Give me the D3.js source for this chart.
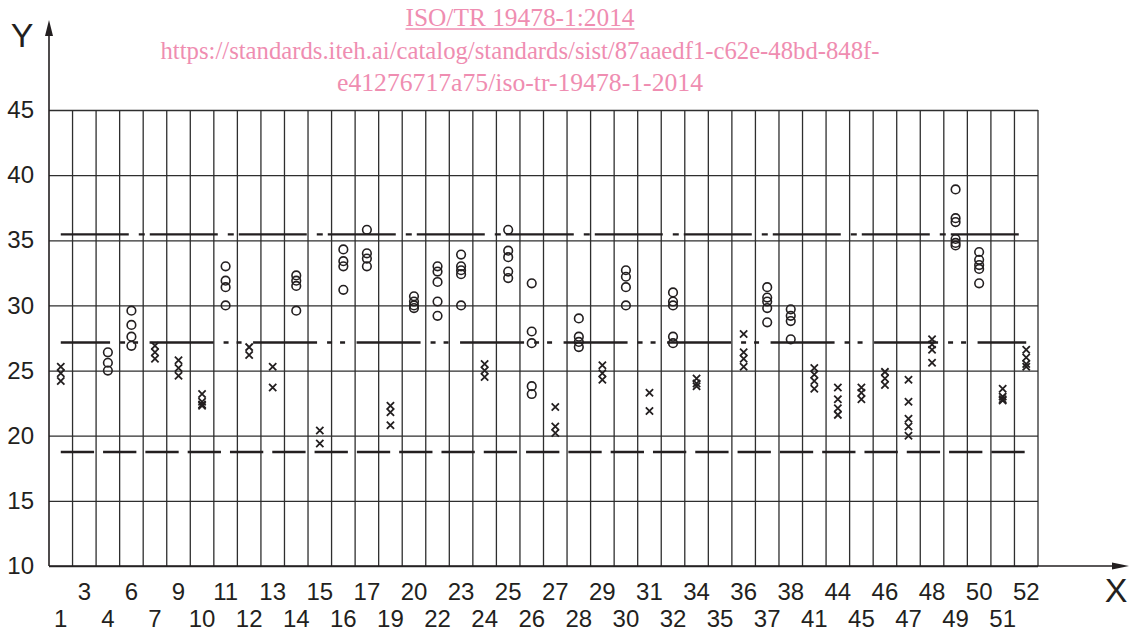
<!DOCTYPE html>
<html>
<head>
<meta charset="utf-8">
<script src="https://cdn.jsdelivr.net/npm/d3@7"></script>
<style>
  body { margin: 0; background: #fff; }
  svg { display: block; font-family: "Liberation Sans", Arial, sans-serif; }
</style>
</head>
<body>
<div id="chart"></div>
<script>
// specimen numbers along X (two of them have no results)
const categories = [1, 3, 4, 6, 7, 9, 10, 11, 12, 13, 14, 15, 16, 17, 19, 20, 22, 23, 24, 25, 26,
    27, 28, 29, 30, 31, 32, 34, 35, 36, 37, 38, 41, 44, 45, 46, 47, 48, 49, 50, 51, 52];

const yTicks = [10, 15, 20, 25, 30, 35, 40, 45];

// results drawn as circles: [specimen, values]
const circleResults = [
    [4, [26.4, 25.6, 25.0]],
    [6, [29.6, 28.5, 27.6, 26.9]],
    [11, [33.0, 31.9, 31.4, 30.0]],
    [14, [32.3, 31.9, 31.5, 29.6]],
    [16, [34.3, 33.4, 33.0, 31.2]],
    [17, [35.8, 34.0, 33.6, 33.0]],
    [20, [30.7, 30.3, 30.0, 29.8]],
    [22, [33.0, 32.6, 31.8, 30.3, 29.2]],
    [23, [33.9, 33.0, 32.7, 32.4, 30.0]],
    [25, [35.8, 34.2, 33.7, 32.6, 32.1]],
    [26, [31.7, 28.0, 27.1, 23.8, 23.2]],
    [28, [29.0, 27.6, 27.2, 26.8]],
    [30, [32.7, 32.2, 31.4, 30.0]],
    [32, [31.0, 30.3, 30.0, 27.6, 27.1]],
    [37, [31.4, 30.6, 30.3, 29.8, 28.7]],
    [38, [29.7, 29.2, 28.8, 27.4]],
    [49, [38.9, 36.7, 36.4, 35.1, 34.8, 34.6]],
    [50, [34.1, 33.5, 33.1, 32.8, 31.7]]
];

// results drawn as crosses: [specimen, values]
const crossResults = [
    [1, [25.3, 24.8, 24.2]],
    [7, [26.9, 26.4, 25.9]],
    [9, [25.8, 25.2, 24.6]],
    [10, [23.2, 22.6, 22.4, 22.3]],
    [12, [26.8, 26.2]],
    [13, [25.3, 23.7]],
    [15, [20.4, 19.4]],
    [19, [22.3, 21.8, 20.8]],
    [24, [25.5, 25.0, 24.5]],
    [27, [22.2, 20.7, 20.2]],
    [29, [25.4, 24.8, 24.3]],
    [31, [23.3, 21.9]],
    [34, [24.4, 24.0, 23.8]],
    [36, [27.8, 26.4, 25.9, 25.3]],
    [41, [25.2, 24.7, 24.2, 23.6]],
    [44, [23.7, 22.8, 22.1, 21.6]],
    [45, [23.7, 23.3, 22.8]],
    [46, [24.9, 24.4, 23.9]],
    [47, [24.3, 22.6, 21.3, 20.7, 20.0]],
    [48, [27.4, 27.0, 26.6, 25.6]],
    [51, [23.6, 23.0, 22.8, 22.7]],
    [52, [26.6, 26.0, 25.5, 25.3]]
];

// horizontal reference levels: upper, mean, lower
const refLevels = [35.45, 27.15, 18.75];

const watermark = [
    'ISO/TR 19478-1:2014',
    'https://standards.iteh.ai/catalog/standards/sist/87aaedf1-c62e-48bd-848f-',
    'e41276717a75/iso-tr-19478-1-2014'
];

const W = 1139, H = 631;
const plotLeft = 49, plotRight = 1038, plotTop = 110, plotBottom = 566;
const ink = '#231f20';

const svg = d3.select('#chart').append('svg')
    .attr('width', W)
    .attr('height', H);

const x = d3.scaleBand()
    .domain(categories)
    .range([plotLeft, plotRight])
    .padding(0);

const y = d3.scaleLinear()
    .domain([10, 45])
    .range([plotBottom, plotTop]);

// horizontal grid + y labels
const yAxis = svg.append('g')
    .attr('transform', `translate(${plotLeft},0)`)
    .call(d3.axisLeft(y).tickValues(yTicks).tickSize(-(plotRight - plotLeft)).tickPadding(15));
yAxis.select('.domain').remove();
yAxis.selectAll('.tick line').attr('stroke', '#2e2e2e').attr('stroke-width', 1.3);
yAxis.selectAll('.tick text')
    .attr('fill', ink)
    .style('font-size', '24px')
    .style('font-family', '"Liberation Sans", Arial, sans-serif');

// vertical grid at column edges
const edges = categories.slice(1).map(c => x(c)).concat([plotRight]);
svg.append('g').selectAll('line')
    .data(edges)
    .enter().append('line')
    .attr('x1', d => d).attr('x2', d => d)
    .attr('y1', plotTop).attr('y2', plotBottom)
    .attr('stroke', '#2e2e2e')
    .attr('stroke-width', 1.3);

// x labels, staggered on two rows
const xAxis = svg.append('g')
    .attr('transform', `translate(0,${plotBottom})`)
    .call(d3.axisBottom(x).tickSize(0));
xAxis.select('.domain').remove();
xAxis.selectAll('.tick text')
    .attr('fill', ink)
    .attr('dy', null)
    .attr('y', (d, i) => i % 2 === 0 ? 61 : 34)
    .style('font-size', '24px')
    .style('font-family', '"Liberation Sans", Arial, sans-serif');

// axes with arrows
svg.append('line')
    .attr('x1', plotLeft).attr('x2', plotLeft)
    .attr('y1', plotBottom).attr('y2', 30)
    .attr('stroke', ink).attr('stroke-width', 1.6);
svg.append('path')
    .attr('d', `M${plotLeft},20 L${plotLeft - 4},36 L${plotLeft + 4},36 Z`)
    .attr('fill', ink);
svg.append('line')
    .attr('x1', plotLeft).attr('x2', 1118)
    .attr('y1', plotBottom).attr('y2', plotBottom)
    .attr('stroke', ink).attr('stroke-width', 1.6);
svg.append('path')
    .attr('d', `M1129,${plotBottom} L1112,${plotBottom - 3.5} L1112,${plotBottom + 3.5} Z`)
    .attr('fill', ink);

svg.append('text')
    .attr('x', 22).attr('y', 47)
    .attr('text-anchor', 'middle')
    .attr('fill', ink)
    .style('font-size', '34px')
    .text('Y');
svg.append('text')
    .attr('x', 1116).attr('y', 602)
    .attr('text-anchor', 'middle')
    .attr('fill', ink)
    .style('font-size', '34px')
    .text('X');

// reference lines
const x0 = x(categories[0]) + x.bandwidth() / 2;
const x1 = x(categories[categories.length - 1]) + x.bandwidth() / 2;
const dashes = ['68,10,6,5', '64,10,5,8,5,11.5', '33.3,9'];
const offsets = [0, 14.7, 0];
svg.append('g').selectAll('line')
    .data(refLevels)
    .enter().append('line')
    .attr('x1', x0).attr('x2', x1)
    .attr('y1', d => y(d)).attr('y2', d => y(d))
    .attr('stroke', ink)
    .attr('stroke-width', 2.4)
    .attr('stroke-dasharray', (d, i) => dashes[i])
    .attr('stroke-dashoffset', (d, i) => offsets[i]);

// points
const flat = rows => rows.flatMap(([c, vals]) => vals.map(v => ({ c, v })));

svg.append('g').selectAll('circle')
    .data(flat(circleResults))
    .enter().append('circle')
    .attr('cx', d => x(d.c) + x.bandwidth() / 2)
    .attr('cy', d => y(d.v))
    .attr('r', 4.3)
    .attr('fill', 'none')
    .attr('stroke', ink)
    .attr('stroke-width', 1.6);

const cross = d3.symbol(d3.symbolTimes).size(36);
svg.append('g').selectAll('path')
    .data(flat(crossResults))
    .enter().append('path')
    .attr('transform', d => `translate(${x(d.c) + x.bandwidth() / 2},${y(d.v)})`)
    .attr('d', cross)
    .attr('fill', 'none')
    .attr('stroke', ink)
    .attr('stroke-width', 1.8);

// pink source note on top
const note = svg.append('g')
    .attr('fill', '#ef8db1')
    .style('font-family', '"Liberation Serif", "Times New Roman", serif')
    .style('font-size', '25px');
const noteWidths = [229, 719, 366];
const noteBase = [26, 58.5, 91];
note.selectAll('text')
    .data(watermark)
    .enter().append('text')
    .attr('x', 520)
    .attr('y', (d, i) => noteBase[i])
    .attr('text-anchor', 'middle')
    .attr('textLength', (d, i) => noteWidths[i])
    .attr('lengthAdjust', 'spacingAndGlyphs')
    .text(d => d);
note.append('line')
    .attr('x1', 520 - noteWidths[0] / 2).attr('x2', 520 + noteWidths[0] / 2)
    .attr('y1', 29).attr('y2', 29)
    .attr('stroke', '#ef8db1')
    .attr('stroke-width', 1.3);
</script>
</body>
</html>
